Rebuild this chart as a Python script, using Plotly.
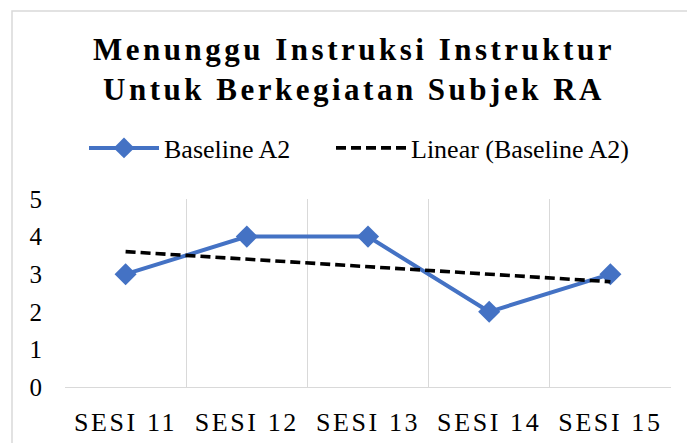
import plotly.graph_objects as go

# Session labels and observed scores for phase Baseline A2
sessions = ["SESI 11", "SESI 12", "SESI 13", "SESI 14", "SESI 15"]
baseline_a2 = [3, 4, 4, 2, 3]
# Linear trend of Baseline A2 at each session
trend_a2 = [3.6, 3.4, 3.2, 3.0, 2.8]
y_ticks = [0, 1, 2, 3, 4, 5]

title_lines = ["Menunggu Instruksi Instruktur", "Untuk Berkegiatan Subjek RA"]

SERIF = "Liberation Serif, Times New Roman, serif"
BLUE = "#4472C4"
GRID = "#D9D9D9"

fig = go.Figure()

fig.add_trace(go.Scatter(
    x=sessions, y=baseline_a2, name="Baseline A2",
    mode="lines+markers",
    line=dict(color=BLUE, width=4),
    marker=dict(symbol="diamond", size=17, color=BLUE),
    legend="legend",
))

fig.add_trace(go.Scatter(
    x=sessions, y=trend_a2, name="Linear (Baseline A2)",
    mode="lines",
    line=dict(color="black", width=3.6, dash="10px,5px"),
    legend="legend2",
))

legend_style = dict(
    orientation="h",
    xanchor="left", xref="container",
    y=1 - 148 / 443, yanchor="middle", yref="container",
    font=dict(family=SERIF, size=26, color="black"),
    itemwidth=70,
    bgcolor="rgba(0,0,0,0)",
)

fig.update_layout(
    width=687, height=443,
    margin=dict(l=65, r=16, t=199, b=56),
    paper_bgcolor="white", plot_bgcolor="white",
    font=dict(family=SERIF, color="black"),
    title=dict(
        text="<br>".join(title_lines),
        font=dict(family=SERIF, size=31, color="black", weight="bold"),
        x=354 / 687, xanchor="center", xref="container",
        y=1 - 60 / 443, yanchor="middle", yref="container",
    ),
    showlegend=True,
    legend=dict(legend_style, x=84 / 687),
    legend2=dict(legend_style, x=331 / 687),
    xaxis=dict(
        type="category",
        tickson="boundaries",
        showgrid=True, gridcolor=GRID, gridwidth=1,
        showline=True, linecolor=GRID, linewidth=1,
        ticks="", ticklabelstandoff=12,
        tickfont=dict(family=SERIF, size=26, color="black"),
        range=[-0.5, 4.5],
        automargin=False,
        fixedrange=True,
    ),
    yaxis=dict(
        range=[0, 5], tickvals=y_ticks,
        showgrid=False, zeroline=False, showline=False,
        ticks="", ticklabelstandoff=22,
        tickfont=dict(family=SERIF, size=25, color="black"),
        automargin=False,
        fixedrange=True,
    ),
    shapes=[dict(
        type="rect", xref="paper", yref="paper",
        x0=(12 - 65) / 606, x1=(700 - 65) / 606,
        y0=-(460 - 387) / 188, y1=1 + (199 - 11) / 188,
        line=dict(color=GRID, width=1.5), layer="below",
    )],
)

# Spaced lettering for the title and the session labels
letter_spacing_css = (
    "var s=document.createElement('style');"
    "s.textContent='.gtitle{letter-spacing:3.5px}.xtick text{letter-spacing:2.6px}';"
    "document.head.appendChild(s);"
)

fig.write_html("out.html", post_script=letter_spacing_css)
